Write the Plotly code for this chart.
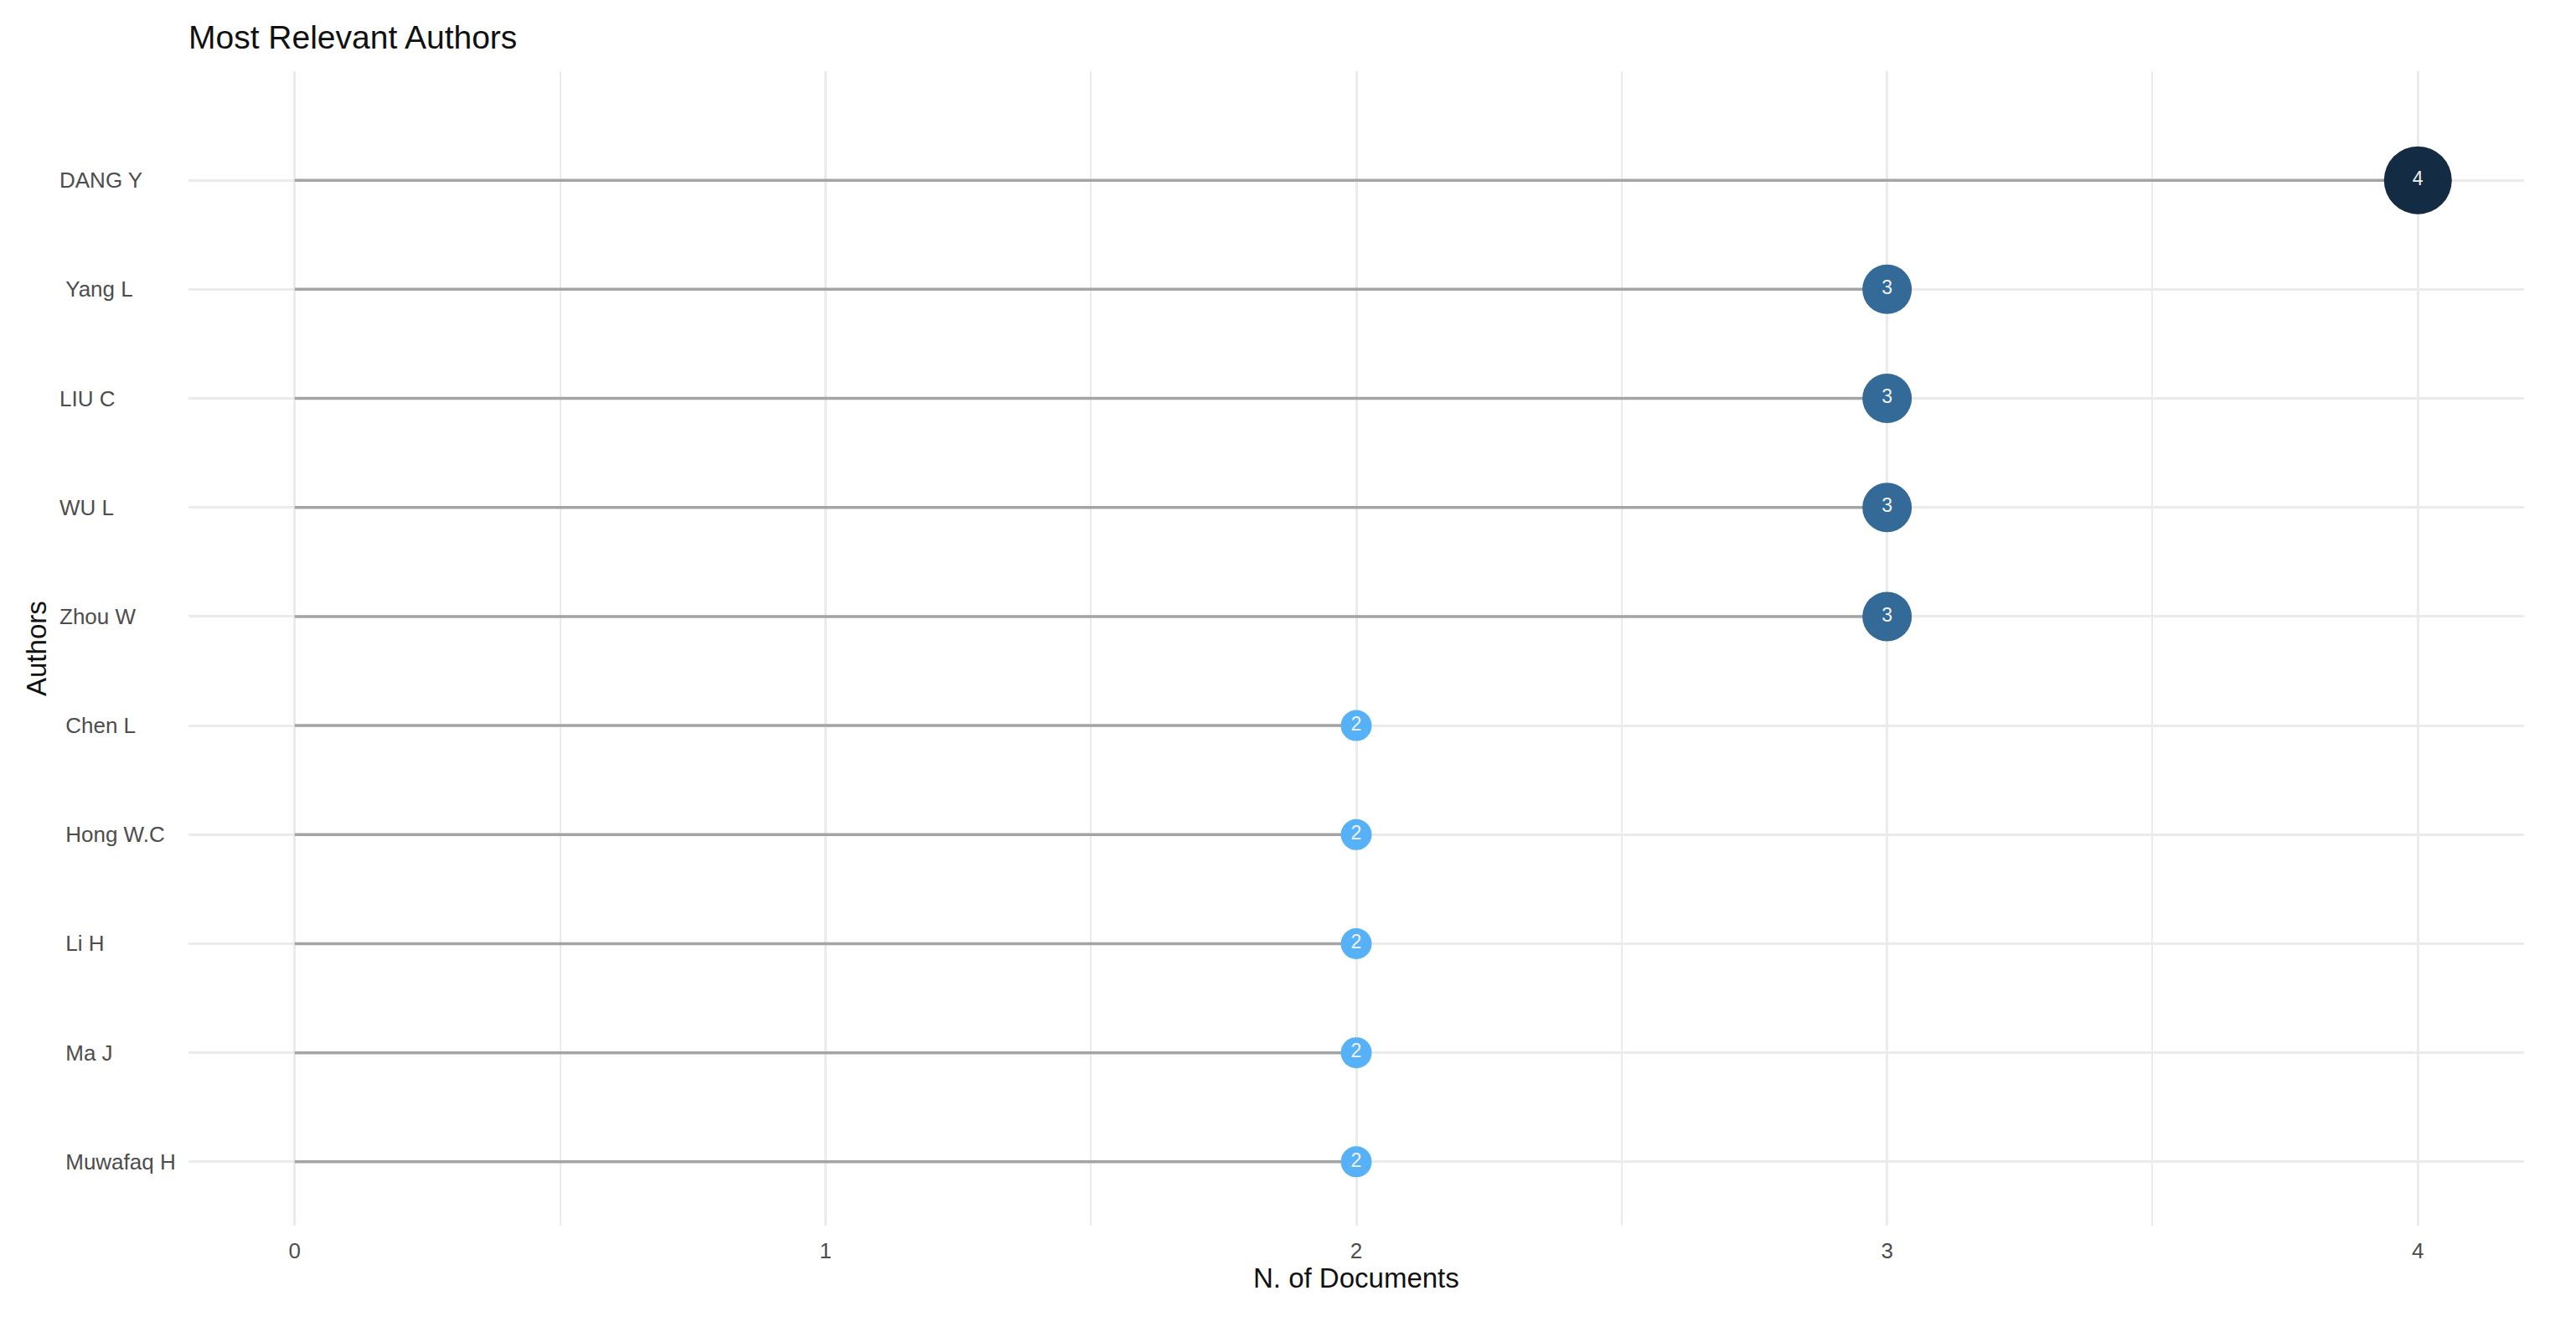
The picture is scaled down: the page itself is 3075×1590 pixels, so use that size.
import plotly.graph_objects as go

# ---- data (top to bottom as shown) ----
authors = ["DANG Y", "Yang L", "LIU C", "WU L", "Zhou W",
           "Chen L", "Hong W.C", "Li H", "Ma J", "Muwafaq H"]
n_documents = [4, 3, 3, 3, 3, 2, 2, 2, 2, 2]
# tick label text as it appears (some names carry a leading space in the source)
tick_labels = ["DANG Y", "\u00a0Yang L", "LIU C", "WU L", "Zhou W",
               "\u00a0Chen L", "\u00a0Hong W.C", "\u00a0Li H", "\u00a0Ma J", "\u00a0Muwafaq H"]
x_ticks = [0, 1, 2, 3, 4]

FONT = "Liberation Sans, Arial, sans-serif"
W, H = 3075, 1590
OFF = 8  # page body margin
PX0, PX1, PY0, PY1 = 225, 3013, 85, 1463  # panel in screen pixels
L, T = PX0 - OFF, PY0 - OFF
R, B = W - (PX1 - OFF), H - (PY1 - OFF)
pw, ph = PX1 - PX0, PY1 - PY0

vmin, vmax = min(n_documents), max(n_documents)
sizes = [37 + (v - vmin) / (vmax - vmin) * 44 for v in n_documents]

# segments
seg_x, seg_y = [], []
for a, v in zip(authors, n_documents):
    seg_x += [0, v, None]
    seg_y += [a, a, None]

fig = go.Figure()
fig.add_trace(go.Scatter(
    x=seg_x, y=seg_y, mode="lines",
    line=dict(color="#a4a4a4", width=3.5),
    hoverinfo="skip", showlegend=False))
fig.add_trace(go.Scatter(
    x=n_documents, y=authors, mode="markers+text",
    text=[str(v) for v in n_documents], textposition="middle center",
    textfont=dict(family=FONT, size=23, color="#f2f2f2"),
    marker=dict(size=sizes, color=n_documents, cmin=vmin, cmax=vmax,
                colorscale=[[0, "#56B1F7"], [0.5, "#336A98"], [1, "#132B43"]],
                line=dict(width=0), opacity=1),
    showlegend=False))

annotations = []
for a, lab in zip(authors, tick_labels):
    annotations.append(dict(
        x=(69 - PX0) / pw, xref="paper", y=a, yref="y",
        text=lab, showarrow=False, xanchor="left", yanchor="middle",
        font=dict(family=FONT, size=26, color="#4d4d4d")))
annotations.append(dict(
    x=(43 - PX0) / pw, xref="paper", y=0.5, yref="paper",
    text="Authors", textangle=-90, showarrow=False,
    xanchor="center", yanchor="middle",
    font=dict(family=FONT, size=33, color="#111111")))
annotations.append(dict(
    x=0.5, xref="paper", y=-(1525 - PY1) / ph, yref="paper",
    text="N. of Documents", showarrow=False,
    xanchor="center", yanchor="middle",
    font=dict(family=FONT, size=33, color="#111111")))

fig.update_layout(
    width=W, height=H,
    margin=dict(l=L, r=R, t=T, b=B, autoexpand=False),
    paper_bgcolor="white", plot_bgcolor="white",
    title=dict(text="Most Relevant Authors", x=(PX0 - OFF) / W, xanchor="left",
               xref="container", y=1 - (44 - OFF) / H, yanchor="middle",
               yref="container",
               font=dict(family=FONT, size=39, color="#111111")),
    xaxis=dict(range=[-0.2, 4.2], tickvals=x_ticks,
               ticktext=[str(t) for t in x_ticks],
               showgrid=True, gridcolor="#ebebeb", gridwidth=3,
               minor=dict(dtick=0.5, tick0=0, showgrid=True,
                          gridcolor="#ebebeb", gridwidth=2),
               zeroline=False, showline=False, ticks="",
               ticklabelstandoff=12,
               tickfont=dict(family=FONT, size=26, color="#4d4d4d")),
    yaxis=dict(type="category", categoryorder="array",
               categoryarray=authors[::-1],
               range=[-0.585, 10.0], showticklabels=False,
               showgrid=True, gridcolor="#ebebeb", gridwidth=3,
               zeroline=False, showline=False, ticks=""),
    annotations=annotations,
    font=dict(family=FONT),
)

fig.write_html("out.html")
